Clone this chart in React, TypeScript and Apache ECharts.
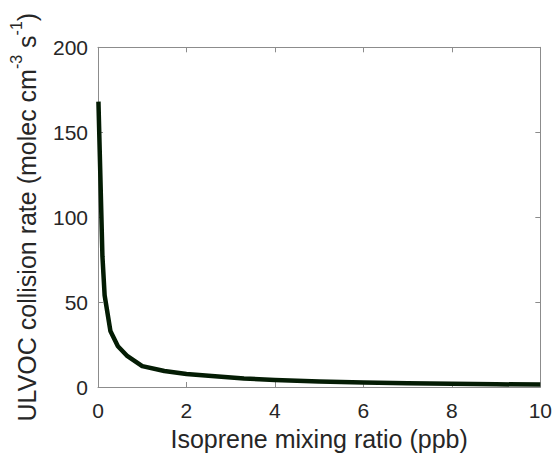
import React, { useEffect, useRef } from "react";
import * as echarts from "echarts";

const isoprenePpb = [0.01, 0.1, 0.15, 0.28, 0.45, 0.65, 1, 1.5, 2, 2.5, 3.3, 4, 5, 6, 7, 8, 9, 10];
const collisionRate = [168, 77, 54, 33, 24, 18.5, 12.3, 9.4, 7.7, 6.6, 5.0, 4.1, 3.3, 2.7, 2.2, 1.85, 1.6, 1.4];
const xTicks = { min: 0, max: 10, interval: 2 };
const yTicks = { min: 0, max: 200, interval: 50 };

const FONT = "'Liberation Sans', Arial, Helvetica, sans-serif";
const TEXT = "#262626";
const AXIS = "#8c8c8c";

export default function App() {
  const ref = useRef<HTMLDivElement>(null);
  useEffect(() => {
    document.body.style.margin = "0";
    if (!ref.current) return;
    const chart = echarts.init(ref.current, null, { renderer: "svg" });
    const axisCommon = {
      axisLine: { show: true, onZero: false, lineStyle: { color: AXIS, width: 1 } },
      axisTick: { show: true, inside: true, length: 5, lineStyle: { color: AXIS, width: 1 } },
      splitLine: { show: false },
    };
    chart.setOption({
      animation: false,
      backgroundColor: "#ffffff",
      grid: { left: 92.7, top: 47.3, right: 13.5, bottom: 67, containLabel: false },
      xAxis: [
        {
          type: "value",
          ...xTicks,
          ...axisCommon,
          position: "bottom",
          axisLabel: { fontSize: 21, color: TEXT, fontFamily: FONT, margin: 13 },
          name: "Isoprene mixing ratio (ppb)",
          nameLocation: "middle",
          nameGap: 39,
          nameTextStyle: { fontSize: 25, color: TEXT, fontFamily: FONT },
        },
        {
          type: "value",
          ...xTicks,
          ...axisCommon,
          position: "top",
          axisLabel: { show: false },
        },
      ],
      yAxis: [
        {
          type: "value",
          ...yTicks,
          ...axisCommon,
          position: "left",
          axisLabel: { fontSize: 21, color: TEXT, fontFamily: FONT, margin: 10 },
          name: "{a|ULVOC collision rate (molec cm}{sup|-3}{a| s}{sup|-1}{a|)}",
          nameLocation: "middle",
          nameGap: 52,
          nameTextStyle: {
            fontSize: 25,
            color: TEXT,
            fontFamily: FONT,
            rich: {
              a: { fontSize: 25, color: TEXT, fontFamily: FONT },
              sup: {
                fontSize: 16,
                color: TEXT,
                fontFamily: FONT,
                verticalAlign: "bottom",
                padding: [0, 0, 22, 0],
              },
            },
          },
        },
        {
          type: "value",
          ...yTicks,
          ...axisCommon,
          position: "right",
          axisLabel: { show: false },
        },
      ],
      series: [
        {
          type: "line",
          xAxisIndex: 0,
          yAxisIndex: 0,
          data: isoprenePpb.map((x, i) => [x, collisionRate[i]]),
          showSymbol: false,
          symbol: "none",
          lineStyle: { color: "#041c04", width: 4.5, join: "round", cap: "butt" },
          clip: true,
        },
      ],
    });
    return () => chart.dispose();
  }, []);
  return <div ref={ref} style={{ width: 555, height: 456 }} />;
}
